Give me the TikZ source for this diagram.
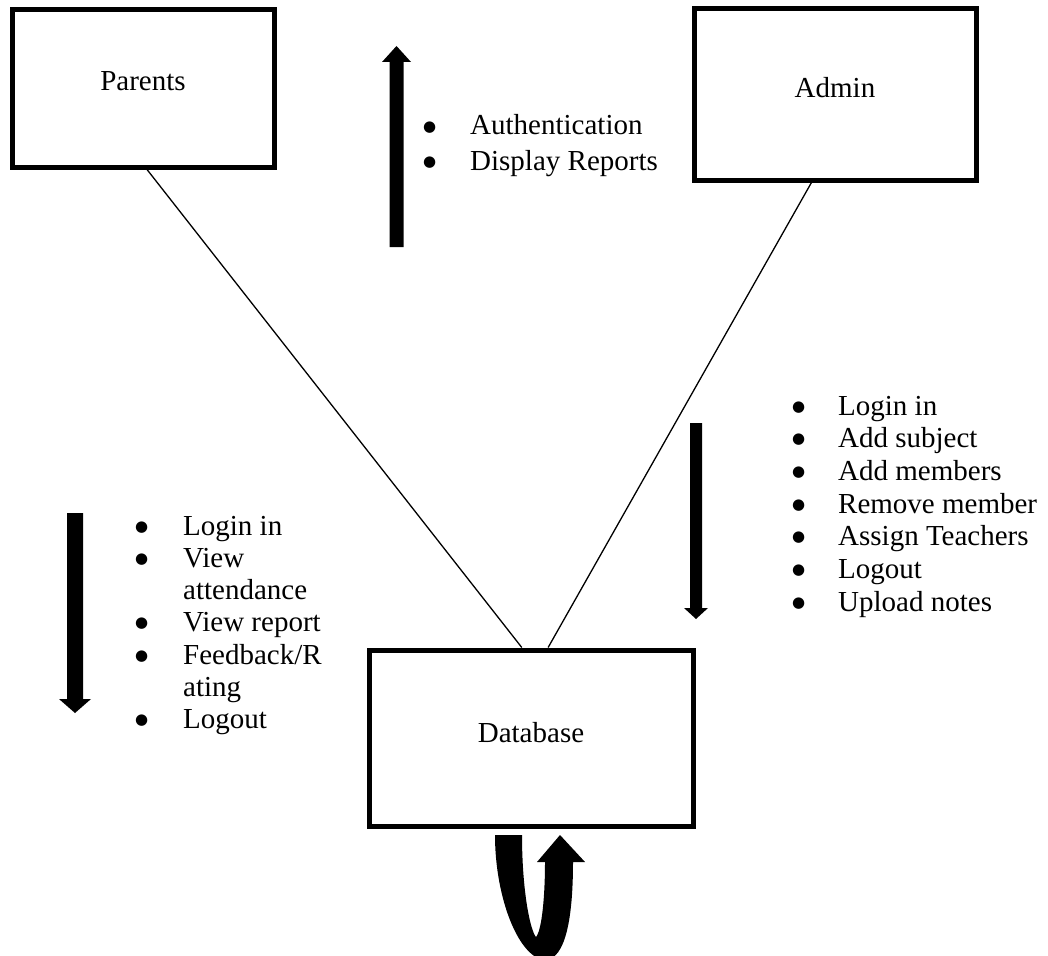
\documentclass[tikz,border=0pt]{standalone}
\usepackage{fontspec}
\setmainfont{Liberation Serif}
\newfontfamily\dotfont{DejaVu Sans}
\usetikzlibrary{calc}
\newcommand{\bigbul}[1]{\makebox[#1][l]{\raisebox{4pt}{\dotfont\fontsize{15}{15}\selectfont ●}}}
\begin{document}
\begin{tikzpicture}[x=1pt,y=-1pt,
  box/.style={draw, line width=5pt, fill=white, inner sep=0pt},
  label/.style={anchor=base, inner sep=0pt, font=\fontsize{29}{33}\selectfont},
  list/.style={anchor=base west, inner sep=0pt, align=left},
  conn/.style={line width=1.3pt},
  blockarrow/.style={fill=black, draw=none}]
\useasboundingbox (0,0) rectangle (1048,955);

% boxes
\node[box, minimum width=262pt, minimum height=157pt] (parents) at (143,88.5) {};
\node[box, minimum width=282pt, minimum height=171pt] (admin) at (835,94.5) {};
\node[box, minimum width=324pt, minimum height=176pt] (database) at (531,738) {};

\node[label] (parentsText) at (143,91) {Parents};
\node[label] (adminText) at (835,98) {Admin};
\node[label] (databaseText) at (531,742) {Database};

% connectors
\coordinate (pa) at ($(parents.south west)!0.515!(parents.south east)$);
\coordinate (ad) at ($(admin.south west)!0.418!(admin.south east)$);
\coordinate (dbl) at ($(database.north west)!0.472!(database.north east)$);
\coordinate (dbr) at ($(database.north west)!0.552!(database.north east)$);
\draw[conn] (pa) -- (dbl);
\draw[conn] (ad) -- (dbr);

% block arrows
\fill[blockarrow] (389.5,247) -- (403.5,247) -- (403.5,62) -- (411,62) -- (396.5,46) -- (382,62) -- (389.5,62) -- cycle;
\fill[blockarrow] (67,513) -- (83,513) -- (83,699) -- (91,699) -- (75,713) -- (59,699) -- (67,699) -- cycle;
\fill[blockarrow] (690,423) -- (702,423) -- (702,608) -- (708,608) -- (696,619) -- (684,608) -- (690,608) -- cycle;

% U-turn arrow
\fill[blockarrow] (495,835) -- (522,835) .. controls (522,890) and (530,930) .. (536,937)
  .. controls (542,930) and (545,895) .. (545,862) -- (537,862) -- (560,835) -- (585,862) -- (573,862)
  .. controls (573,920) and (565,958) .. (546,960) .. controls (520,960) and (495,900) .. (495,835) -- cycle;

% lists
\node[list] (toplist) at (423,135) {\fontsize{29}{36}\selectfont
  \begin{tabular}[t]{@{}l@{}l@{}}
  \bigbul{47pt} & Authentication\\
  \bigbul{47pt} & Display Reports
  \end{tabular}};

\node[list] (adminlist) at (792,415) {\fontsize{29}{32.7}\selectfont
  \begin{tabular}[t]{@{}l@{}l@{}}
  \bigbul{46pt} & Login in\\
  \bigbul{46pt} & Add subject\\
  \bigbul{46pt} & Add members\\
  \bigbul{46pt} & Remove member\\
  \bigbul{46pt} & Assign Teachers\\
  \bigbul{46pt} & Logout\\
  \bigbul{46pt} & Upload notes
  \end{tabular}};

\node[list] (parentlist) at (135,535) {\fontsize{29}{32.3}\selectfont
  \begin{tabular}[t]{@{}l@{}l@{}}
  \bigbul{48pt} & Login in\\
  \bigbul{48pt} & View\\
   & attendance\\
  \bigbul{48pt} & View report\\
  \bigbul{48pt} & Feedback/R\\
   & ating\\
  \bigbul{48pt} & Logout
  \end{tabular}};
\end{tikzpicture}
\end{document}
